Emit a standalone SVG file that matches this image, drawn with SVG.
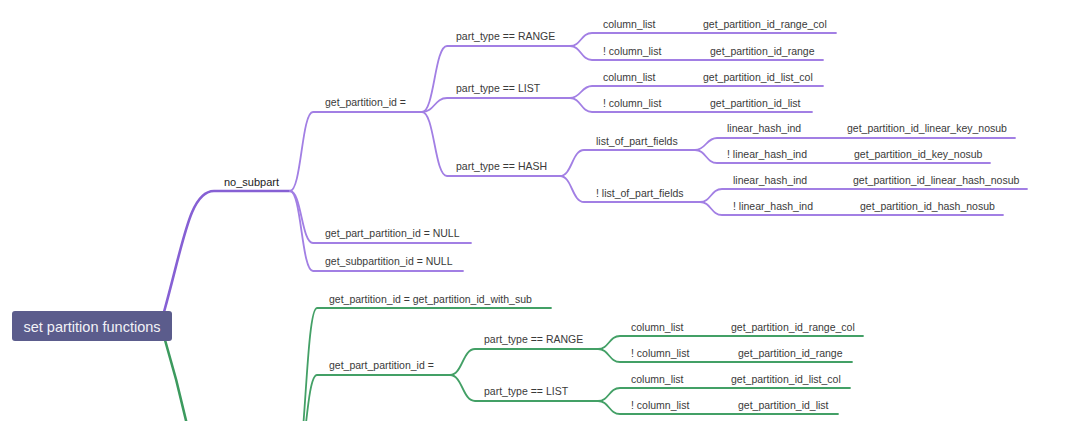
<svg xmlns="http://www.w3.org/2000/svg" width="1080" height="421" viewBox="0 0 1080 421">
<style>
.p{fill:none;stroke:#a27fe4;stroke-width:1.8;stroke-linecap:round}
.pm{fill:none;stroke:#8660d4;stroke-width:2.6;stroke-linecap:round}
.g{fill:none;stroke:#43a066;stroke-width:1.8;stroke-linecap:round}
.gm{fill:none;stroke:#3c9a5e;stroke-width:2.6;stroke-linecap:round}
text{font-family:"Liberation Sans",Arial,sans-serif;font-size:10.5px;fill:#3a3a3a}
.l1{font-size:11px;fill:#222}
.root{font-size:14.5px;fill:#f2f2f7;text-anchor:middle}
</style>
<rect width="1080" height="421" fill="#ffffff"/>
<g id="connectors">
<path class="pm" d="M164,312 C184,240 190,191 214,191 L290,191"/>
<path class="p" d="M290,191 C301.5,191 301.5,112 313,112 L422,112"/>
<path class="p" d="M290,191 C301.5,191 301.5,243 313,243 L471,243"/>
<path class="p" d="M290,191 C301.5,191 301.5,271 313,271 L463,271"/>
<path class="p" d="M422,112 C434.5,112 434.5,46 447,46 L570,46"/>
<path class="p" d="M422,112 C434.5,112 434.5,98 447,98 L570,98"/>
<path class="p" d="M422,112 C434.5,112 434.5,176 447,176 L560,176"/>
<path class="p" d="M570,46 C581,46 581,33 592,33 L836,33"/>
<path class="p" d="M570,46 C581,46 581,60 592,60 L823,60"/>
<path class="p" d="M570,98 C581,98 581,86 592,86 L823,86"/>
<path class="p" d="M570,98 C581,98 581,112 592,112 L812,112"/>
<path class="p" d="M560,176 C572,176 572,150 584,150 L695,150"/>
<path class="p" d="M560,176 C572,176 572,202 584,202 L700,202"/>
<path class="p" d="M695,150 C706,150 706,138 717,138 L1015,138"/>
<path class="p" d="M695,150 C706,150 706,163 717,163 L990,163"/>
<path class="p" d="M700,202 C711,202 711,189 722,189 L1027,189"/>
<path class="p" d="M700,202 C711,202 711,215 722,215 L1003,215"/>
<path class="gm" d="M165,340 C177,380 187,420 196,470"/>
<path class="g" d="M294,480 C305.5,480 305.5,308 317,308 L551,308"/>
<path class="g" d="M294,480 C305.5,480 305.5,375 317,375 L450,375"/>
<path class="g" d="M450,375 C462.5,375 462.5,349 475,349 L598,349"/>
<path class="g" d="M450,375 C462.5,375 462.5,401 475,401 L598,401"/>
<path class="g" d="M598,349 C609,349 609,336 620,336 L863,336"/>
<path class="g" d="M598,349 C609,349 609,362 620,362 L852,362"/>
<path class="g" d="M598,401 C609,401 609,388 620,388 L850,388"/>
<path class="g" d="M598,401 C609,401 609,414 620,414 L838,414"/>
</g>
<g id="root"><rect x="12" y="311" width="160" height="30" rx="3" fill="#5b5c8c"/><text class="root" x="92" y="331.5">set partition functions</text></g>
<g id="no_subpart"><text class="l1" x="224" y="185.5">no_subpart</text></g>
<g id="ns_get_partition_id"><text x="325" y="106">get_partition_id =</text></g>
<g id="ns_get_part_partition_id"><text x="325" y="237">get_part_partition_id = NULL</text></g>
<g id="ns_get_subpartition_id"><text x="325" y="265">get_subpartition_id = NULL</text></g>
<g id="ns_range"><text x="456" y="40">part_type == RANGE</text></g>
<g id="ns_list"><text x="456" y="92">part_type == LIST</text></g>
<g id="ns_hash"><text x="456" y="170">part_type == HASH</text></g>
<g id="ns_range_col"><text x="603" y="27.5">column_list</text><text x="703" y="27.5">get_partition_id_range_col</text></g>
<g id="ns_range_nocol"><text x="603" y="54.5">! column_list</text><text x="710" y="54.5">get_partition_id_range</text></g>
<g id="ns_list_col"><text x="603" y="80.5">column_list</text><text x="703" y="80.5">get_partition_id_list_col</text></g>
<g id="ns_list_nocol"><text x="603" y="106.5">! column_list</text><text x="710" y="106.5">get_partition_id_list</text></g>
<g id="ns_lopf"><text x="596" y="145">list_of_part_fields</text></g>
<g id="ns_nlopf"><text x="596" y="197">! list_of_part_fields</text></g>
<g id="ns_lopf_lin"><text x="727" y="132">linear_hash_ind</text><text x="847" y="132">get_partition_id_linear_key_nosub</text></g>
<g id="ns_lopf_nolin"><text x="727" y="157.5">! linear_hash_ind</text><text x="854" y="157.5">get_partition_id_key_nosub</text></g>
<g id="ns_nlopf_lin"><text x="733" y="183.5">linear_hash_ind</text><text x="853" y="183.5">get_partition_id_linear_hash_nosub</text></g>
<g id="ns_nlopf_nolin"><text x="733" y="209.5">! linear_hash_ind</text><text x="860" y="209.5">get_partition_id_hash_nosub</text></g>
<g id="ws_get_partition_id"><text x="329" y="302.5">get_partition_id = get_partition_id_with_sub</text></g>
<g id="ws_get_part_partition_id"><text x="329" y="369">get_part_partition_id =</text></g>
<g id="ws_range"><text x="484" y="343">part_type == RANGE</text></g>
<g id="ws_list"><text x="484" y="395">part_type == LIST</text></g>
<g id="ws_range_col"><text x="631" y="330.5">column_list</text><text x="731" y="330.5">get_partition_id_range_col</text></g>
<g id="ws_range_nocol"><text x="631" y="356.5">! column_list</text><text x="738" y="356.5">get_partition_id_range</text></g>
<g id="ws_list_col"><text x="631" y="382.5">column_list</text><text x="731" y="382.5">get_partition_id_list_col</text></g>
<g id="ws_list_nocol"><text x="631" y="408.5">! column_list</text><text x="738" y="408.5">get_partition_id_list</text></g>
</svg>
